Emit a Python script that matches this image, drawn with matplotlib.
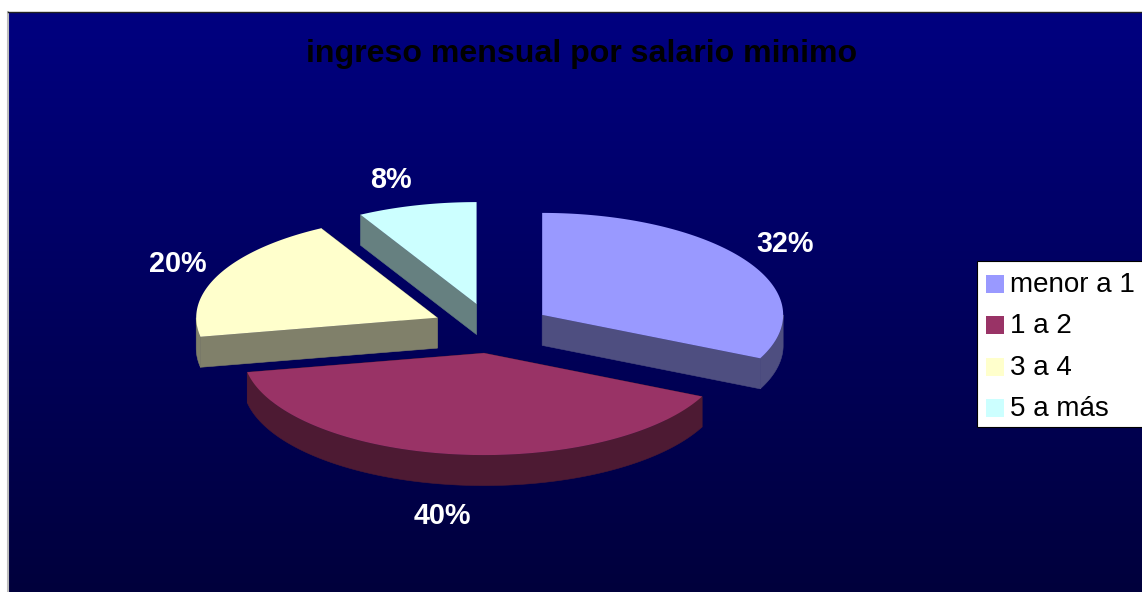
""" Exploded 3D-look pie: ingreso mensual por salario minimo """
import numpy as np
import matplotlib
matplotlib.use("Agg")
import matplotlib.pyplot as plt
from matplotlib.patches import Polygon, Rectangle

""" DATA """
title = "ingreso mensual por salario minimo"
categories = ["menor a 1", "1 a 2", "3 a 4", "5 a más"]
shares = [32, 40, 20, 8]

""" STYLE """
top_colors = ["#9999FF", "#993366", "#FFFFCC", "#CCFFFF"]
side_colors = ["#4E4E80", "#4D1A33", "#80806A", "#668080"]
label_xy = [(785, 244), (442, 516), (178, 264), (391, 180)]
draw_order = [3, 2, 0, 1]

W, H = 1142, 592
cx, cy = 491.5, 328.3      # pie centre, pixels
rx, ry = 241.0, 102.0      # ellipse radii
ex, ey = 60.0, 25.0        # explosion along each axis
depth = 30.5

plt.rcParams['font.family'] = ['Liberation Sans', 'DejaVu Sans']

fig = plt.figure(figsize=(W / 100, H / 100), dpi=100, facecolor="white")
ax = fig.add_axes([0, 0, 1, 1])
ax.axis("off")

# Background gradient
grad = np.zeros((256, 1, 3))
grad[:, 0, 2] = np.linspace(128, 60, 256) / 255
ax.imshow(grad, extent=(8, W, H, 12), aspect="auto", zorder=0)
ax.set_xlim(0, W)
ax.set_ylim(H, 0)
ax.plot([7.5, 7.5], [H, 11.5], color="#BDBDBD", lw=1.5, zorder=1)
ax.plot([7.5, W], [11.5, 11.5], color="#222222", lw=1, zorder=1)


def point(apex, theta):
    return np.column_stack((apex[0] + rx * np.sin(theta),
                            apex[1] - ry * np.cos(theta)))


def wall(upper):
    lower = upper[::-1] + [0, depth]
    return np.vstack((upper, lower))


# Slice angles from the shares, clockwise from twelve o'clock
edges = np.radians(np.cumsum([0] + shares) * 360 / sum(shares))

for z, i in enumerate(draw_order):
    start, stop = edges[i], edges[i + 1]
    mid = (start + stop) / 2
    apex = (cx + ex * np.sin(mid), cy - ey * np.cos(mid))
    apex_arr = np.array([apex])
    base = 2 + z * 2

    # radial walls, a wall pointing straight back has no width
    for angle in (start, stop):
        if abs(np.sin(angle)) < 1e-6:
            continue
        rim = point(apex, np.array([angle]))
        ax.add_patch(Polygon(wall(np.vstack((apex_arr, rim))), closed=True,
                             fc=side_colors[i], ec=side_colors[i], lw=0.4,
                             zorder=base))

    # outer wall, only the front half of the ellipse shows
    lo, hi = max(start, np.pi / 2), min(stop, 3 * np.pi / 2)
    if hi > lo:
        rim = point(apex, np.linspace(lo, hi, 120))
        ax.add_patch(Polygon(wall(rim), closed=True, fc=side_colors[i],
                             ec=side_colors[i], lw=0.4, zorder=base))

    # top face
    rim = point(apex, np.linspace(start, stop, 200))
    ax.add_patch(Polygon(np.vstack((apex_arr, rim)), closed=True,
                         fc=top_colors[i], ec="none", zorder=base + 1))

ax.text(582, 54, title, color="black", fontsize=23.1, fontweight="bold",
        ha="center", va="center", zorder=20)

for value, (x, y) in zip(shares, label_xy):
    ax.text(x, y, f"{value}%", color="white", fontsize=20.7, fontweight="bold",
            ha="center", va="center", zorder=20)

# Legend box, runs off the right edge of the picture
ax.add_patch(Rectangle((977, 261), 170, 166, fc="white", ec="black", lw=0.8,
                       zorder=20))
row_step = 41.4
for n, (name, color) in enumerate(zip(categories, top_colors)):
    ax.add_patch(Rectangle((986, 275 + n * row_step), 18, 18, fc=color,
                           ec="none", zorder=21))
    ax.text(1010, 292 + n * row_step, name, color="black", fontsize=20,
            ha="left", va="baseline", zorder=21)

fig.savefig("out.png", dpi=100, facecolor="white")
